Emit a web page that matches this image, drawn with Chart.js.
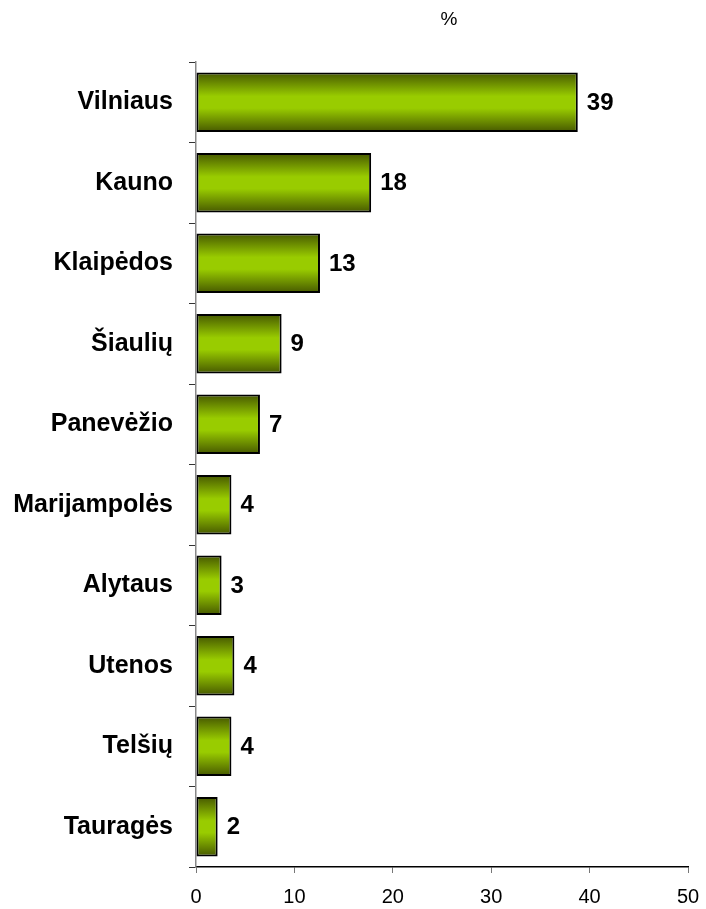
<!DOCTYPE html>
<html>
<head>
<meta charset="utf-8">
<script src="https://cdn.jsdelivr.net/npm/chart.js@4.4.0/dist/chart.umd.min.js"></script>
<style>
  html, body { margin: 0; padding: 0; background: #fff; }
  #wrap { width: 706px; height: 909px; }
</style>
</head>
<body>
<div id="wrap"><canvas id="barChart"></canvas></div>
<script>
// Chart data
const regions = ['Vilniaus', 'Kauno', 'Klaipėdos', 'Šiaulių', 'Panevėžio', 'Marijampolės', 'Alytaus', 'Utenos', 'Telšių', 'Tauragės'];
const shares = [38.8, 17.8, 12.6, 8.7, 6.5, 3.6, 2.6, 3.9, 3.6, 2.2];
const xTicks = [0, 10, 20, 30, 40, 50];
const unitLabel = '%';

const BAR_PCT = 0.74;
const FONT = '"Liberation Sans", Arial, sans-serif';

// Vertical olive -> lime -> olive gradient for each bar
const barGradient = (ctx) => {
    const chart = ctx.chart;
    const y = chart.scales.y;
    if (!chart.chartArea || !y) return '#99cc00';
    const cat = (y.bottom - y.top) / regions.length;
    const center = y.getPixelForValue(ctx.dataIndex);
    const half = cat * BAR_PCT / 2;
    const g = chart.ctx.createLinearGradient(0, center - half, 0, center + half);
    g.addColorStop(0, '#465800');
    g.addColorStop(0.4, '#99cc00');
    g.addColorStop(0.6, '#99cc00');
    g.addColorStop(1, '#465800');
    return g;
};

// Value labels next to bars and the unit label on top
const labelsPlugin = {
    id: 'labelsPlugin',
    afterDatasetsDraw(chart) {
        const c = chart.ctx;
        const meta = chart.getDatasetMeta(0);
        c.save();
        c.fillStyle = '#000';
        c.font = 'bold 24px ' + FONT;
        c.textAlign = 'left';
        c.textBaseline = 'middle';
        meta.data.forEach((bar, i) => {
            c.fillText(String(Math.round(shares[i])), bar.x + 9, bar.y + 1);
        });
        c.font = '19px ' + FONT;
        c.textAlign = 'center';
        c.fillText(unitLabel, 449, 20);
        c.restore();
    }
};

new Chart(document.getElementById('barChart'), {
    type: 'bar',
    data: {
        labels: regions,
        datasets: [{
            data: shares,
            backgroundColor: barGradient,
            borderColor: '#000',
            borderWidth: 2,
            borderSkipped: false,
            barPercentage: BAR_PCT,
            categoryPercentage: 1
        }]
    },
    options: {
        indexAxis: 'y',
        responsive: true,
        maintainAspectRatio: false,
        animation: false,
        layout: { padding: { top: 62, right: 18, left: 0, bottom: 0 } },
        plugins: {
            legend: { display: false },
            tooltip: { enabled: false }
        },
        scales: {
            x: {
                min: 0, max: 50,
                afterBuildTicks: axis => { axis.ticks = xTicks.map(v => ({ value: v })); },
                afterFit: axis => {
                    axis.height = 42;
                    axis.paddingLeft = 0;
                    axis.paddingRight = 0;
                },
                ticks: {
                    color: '#000',
                    font: { size: 20, family: FONT },
                    padding: 12
                },
                grid: { drawOnChartArea: false, drawTicks: true, tickLength: 6, color: '#777' },
                border: { color: '#000', width: 1.5 }
            },
            y: {
                afterFit: axis => { axis.width = 196; },
                ticks: {
                    color: '#000',
                    font: { size: 25, weight: 'bold', family: FONT },
                    padding: 16
                },
                grid: { drawOnChartArea: false, drawTicks: true, tickLength: 7, color: '#333', offset: true },
                border: { color: '#888', width: 1.5 }
            }
        }
    },
    plugins: [labelsPlugin]
});
</script>
</body>
</html>
